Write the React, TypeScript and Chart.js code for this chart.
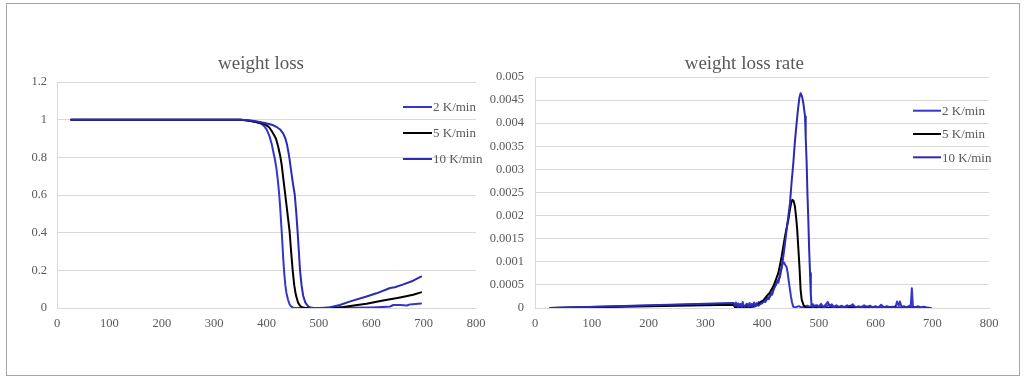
import React, { useEffect, useRef } from "react";
import { Chart, registerables } from "chart.js";
Chart.register(...registerables);

const FONT = "'Liberation Serif', 'Times New Roman', serif";
const TEXT_COLOR = "#595959";
const GRID_COLOR = "#d9d9d9";

const seriesLabels = ["2 K/min", "5 K/min", "10 K/min"];
const seriesColors = ["#3636CC", "#000000", "#2B2BB4"];

const chartTitles = ["weight loss", "weight loss rate"];
const xTickValues = [0, 100, 200, 300, 400, 500, 600, 700, 800];
const wlYTickValues = [0, 0.2, 0.4, 0.6, 0.8, 1, 1.2];
const rateYTickValues = [0, 0.0005, 0.001, 0.0015, 0.002, 0.0025, 0.003, 0.0035, 0.004, 0.0045, 0.005];

// ---------- weight loss (normalized mass) ----------
const wl2T = [27, 350, 360, 370, 380, 390, 394, 400, 406, 410, 413, 416, 419, 422, 424, 426, 428, 430, 432, 434, 436, 438, 441, 444, 447, 451, 456, 480, 520, 560, 600, 630, 636, 642, 655, 668, 674, 695];
const wl2 = [1, 1, 0.997, 0.993, 0.987, 0.978, 0.97, 0.95, 0.91, 0.87, 0.83, 0.79, 0.74, 0.67, 0.61, 0.54, 0.45, 0.36, 0.26, 0.18, 0.12, 0.08, 0.045, 0.02, 0.008, 0.002, 0, 0, 0, 0.001, 0.003, 0.006, 0.008, 0.016, 0.016, 0.013, 0.019, 0.024];

const wl5T = [27, 350, 360, 370, 380, 390, 395, 400, 405, 410, 414, 418, 422, 426, 429, 432, 435, 438, 441, 444, 447, 450, 453, 456, 460, 464, 468, 473, 480, 500, 530, 547, 570, 591, 620, 655, 680, 695];
const wl5 = [1, 1, 0.997, 0.993, 0.988, 0.982, 0.978, 0.97, 0.96, 0.94, 0.92, 0.9, 0.86, 0.81, 0.76, 0.69, 0.62, 0.55, 0.48, 0.41, 0.3, 0.2, 0.12, 0.07, 0.03, 0.012, 0.004, 0.001, 0, 0, 0.002, 0.005, 0.014, 0.023, 0.038, 0.056, 0.07, 0.083];

const wl10T = [27, 350, 360, 370, 380, 394, 405, 413, 420, 426, 432, 436, 439, 442, 444, 447, 450, 454, 457, 459.5, 462, 464, 467, 470, 474, 479, 484, 490, 510, 520, 540, 560, 591, 610, 636, 645, 660, 680, 695];
const wl10 = [1, 1, 0.998, 0.995, 0.992, 0.984, 0.977, 0.97, 0.96, 0.948, 0.926, 0.9, 0.87, 0.825, 0.79, 0.73, 0.67, 0.6, 0.5, 0.4, 0.29, 0.2, 0.12, 0.065, 0.03, 0.01, 0.003, 0, 0, 0.003, 0.016, 0.035, 0.061, 0.078, 0.106, 0.11, 0.124, 0.145, 0.167];

// ---------- weight loss rate ----------
const rate2T = [27, 350, 352, 354, 356, 358, 360, 362, 364, 366, 368, 370, 372, 374, 376, 378, 380, 382, 384, 386, 388, 390, 392, 394, 396, 398, 400, 403, 406, 409, 412, 415, 418, 421, 424, 427, 429, 431, 433, 435, 437, 439, 441, 443, 445, 447, 449, 451, 453, 455, 458, 460, 465, 470, 475, 480, 485, 490, 493, 497, 500, 504, 508, 512, 516, 519, 523, 527, 531, 535, 540, 545, 550, 555, 560, 565, 570, 575, 580, 585, 590, 595, 600, 605, 610, 615, 620, 625, 630, 635, 638, 641, 643, 646, 650, 655, 660, 662, 664, 666, 670, 675, 680, 685, 690, 697];
const rate2 = [0, 0.0001, 0.00002, 0.00012, 0.00004, 0.0001, 0.00001, 0.00009, 0.00003, 0.00013, 0.00002, 0.00005, 0.00001, 0.00008, 0.00003, 0.00011, 0.00002, 0.00009, 0.00004, 0.00012, 0.00005, 0.0001, 0.00006, 0.00013, 0.00008, 0.00014, 0.0001, 0.00017, 0.00013, 0.00022, 0.00019, 0.00031, 0.00029, 0.00044, 0.00049, 0.00058, 0.00055, 0.00068, 0.0008, 0.0009, 0.00099, 0.00098, 0.00093, 0.0009, 0.00078, 0.0006, 0.00042, 0.00025, 0.00012, 0.00003, 0.00001, 0.00002, 0.00004, 0.00001, 0.00003, 0.00005, 0.00002, 0.00008, 0.00002, 0.00006, 0.00003, 0.00009, 0.00002, 0.00007, 0.00013, 0.00004, 0.00008, 0.00002, 0.00006, 0.00001, 0.00005, 0.00002, 0.00006, 0.00002, 0.00008, 0.00001, 0.00004, 0.00002, 0.00006, 0.00001, 0.00005, 0.00002, 0.00004, 0.00001, 0.00007, 0.00001, 0.00004, 0.00002, 0.00003, 0.00001, 0.00014, 0.00005, 0.00014, 0.00002, 0.00004, 0.00001, 0.00005, 0.00002, 0.00043, 0.00003, 0.00002, 0.00004, 0.00001, 0.00003, 0.00001, 0];

const rate5T = [27, 350, 353, 360, 370, 380, 388, 392, 396, 402, 408, 414, 420, 425, 428.8, 432, 434.7, 437.5, 440.5, 443.5, 446.4, 449, 451.5, 453.5, 455.5, 458, 460, 462, 464, 466, 468, 470, 473, 476, 479, 560, 632, 634, 636, 697];
const rate5 = [0, 0.00007, 0.00001, 0.00001, 0.00002, 0.00002, 0.00004, 0.00007, 0.00011, 0.00016, 0.00025, 0.00034, 0.00047, 0.00063, 0.00076, 0.00095, 0.00112, 0.00133, 0.00155, 0.00174, 0.00191, 0.00212, 0.00228, 0.00234, 0.00232, 0.0022, 0.00198, 0.0017, 0.0013, 0.0009, 0.0004, 0.00018, 0.00007, 0.00002, 0, 0, 0, 0.00003, 0, 0];

const rate10T = [27, 350, 352, 355, 358, 361, 364, 367, 370, 373, 376, 379, 382, 385, 388, 391, 394, 397, 400, 404, 408, 414, 418, 423, 427, 431.7, 435, 437.6, 440, 443.5, 446, 449.3, 452, 455.2, 458, 461, 463, 465.8, 468, 470.5, 472.8, 475.8, 477, 478.7, 480, 481.6, 483, 484.6, 486, 487.5, 490, 495, 500, 505, 510, 518, 525, 535, 545, 556, 570, 585, 600, 620, 640, 660, 680, 697];
const rate10 = [0, 0.00011, 0.00005, 0.00008, 0.00002, 0.00007, 0.00001, 0.00006, 0.00003, 0.00009, 0.00002, 0.00006, 0.00003, 0.00008, 0.00004, 0.00007, 0.00005, 0.00009, 0.00011, 0.00014, 0.00018, 0.00025, 0.00033, 0.00047, 0.00057, 0.00068, 0.0009, 0.00112, 0.00135, 0.0017, 0.00195, 0.00227, 0.0027, 0.00314, 0.0036, 0.004, 0.00425, 0.00455, 0.00465, 0.00458, 0.00444, 0.00415, 0.0037, 0.00314, 0.0025, 0.00191, 0.0013, 0.00076, 0.0003, 0.00004, 0.00002, 0.00006, 0.00002, 0.00004, 0.00001, 0.00007, 0.00002, 0.00003, 0.00001, 0.00005, 0.00001, 0.00003, 0.00001, 0.00002, 0.00001, 0.00002, 0.00001, 0];

const toPoints = (xs: number[], ys: number[]) => xs.map((x, i) => ({ x, y: ys[i] }));
const fmt = (v: number) => String(Number(Number(v).toFixed(6)));

const overlayPlugin = {
  id: "overlay",
  afterDraw(chart: any, _args: any, opts: any) {
    const ctx = chart.ctx;
    ctx.save();
    ctx.fillStyle = TEXT_COLOR;
    ctx.font = `${opts.titleSize}px ${FONT}`;
    ctx.textAlign = "center";
    ctx.textBaseline = "alphabetic";
    ctx.fillText(opts.title, opts.titleX, opts.titleY);
    chart.data.datasets.forEach((ds: any, i: number) => {
      const y = opts.legendY + i * opts.legendGap;
      ctx.strokeStyle = ds.borderColor;
      ctx.lineWidth = 2;
      ctx.beginPath();
      ctx.moveTo(opts.legendX, y);
      ctx.lineTo(opts.legendX + opts.legendLine, y);
      ctx.stroke();
      ctx.fillStyle = TEXT_COLOR;
      ctx.font = `${opts.legendSize}px ${FONT}`;
      ctx.textAlign = "left";
      ctx.textBaseline = "middle";
      ctx.fillText(ds.label, opts.legendX + opts.legendLine + 1, y + 1);
    });
    ctx.restore();
  },
};

function makeConfig(
  series: { x: number[]; y: number[] }[],
  yMax: number,
  yStep: number,
  yTicks: number[],
  layout: { left: number; right: number; top: number; bottom: number; yWidth: number; yPad: number },
  overlay: any
): any {
  return {
    type: "line",
    data: {
      datasets: series.map((s, i) => ({
        label: seriesLabels[i],
        data: toPoints(s.x, s.y),
        borderColor: seriesColors[i],
        backgroundColor: seriesColors[i],
        borderWidth: 2,
        borderJoinStyle: "round",
        borderCapStyle: "round",
        pointRadius: 0,
        tension: 0,
        fill: false,
        order: 2 - i,
      })),
    },
    options: {
      responsive: false,
      animation: false,
      events: [],
      layout: { padding: { left: layout.left, right: layout.right, top: layout.top, bottom: layout.bottom } },
      plugins: {
        legend: { display: false },
        title: { display: false },
        tooltip: { enabled: false },
        overlay,
      },
      scales: {
        x: {
          type: "linear",
          min: 0,
          max: 800,
          afterFit: (s: any) => { s.height = 30; },
          afterBuildTicks: (s: any) => { s.ticks = xTickValues.map((v) => ({ value: v })); },
          grid: { display: false, drawTicks: false },
          border: { display: true, color: GRID_COLOR },
          ticks: { padding: 8, color: TEXT_COLOR, font: { family: FONT, size: 12.5 }, maxRotation: 0, autoSkip: false, callback: (v: any) => fmt(v) },
        },
        y: {
          type: "linear",
          min: 0,
          max: yMax,
          afterFit: (s: any) => { s.width = layout.yWidth; },
          afterBuildTicks: (s: any) => { s.ticks = yTicks.map((v) => ({ value: v })); },
          grid: { color: GRID_COLOR, drawTicks: false, lineWidth: 1 },
          border: { display: true, color: GRID_COLOR },
          ticks: { stepSize: yStep, padding: layout.yPad, color: TEXT_COLOR, font: { family: FONT, size: 12.5 }, autoSkip: false, callback: (v: any) => fmt(v) },
        },
      },
    },
    plugins: [overlayPlugin],
  };
}

export default function App() {
  const leftRef = useRef<HTMLCanvasElement>(null);
  const rightRef = useRef<HTMLCanvasElement>(null);

  useEffect(() => {
    const left = new Chart(
      leftRef.current as HTMLCanvasElement,
      makeConfig(
        [
          { x: wl2T, y: wl2 },
          { x: wl5T, y: wl5 },
          { x: wl10T, y: wl10 },
        ],
        1.2,
        0.2,
        wlYTickValues,
        { left: 17, right: 36, top: 82, bottom: 41, yWidth: 40, yPad: 10 },
        { title: chartTitles[0], titleSize: 19, titleX: 261, titleY: 68.5, legendX: 403, legendLine: 29, legendY: 107, legendGap: 26, legendSize: 13 }
      )
    );
    const right = new Chart(
      rightRef.current as HTMLCanvasElement,
      makeConfig(
        [
          { x: rate2T, y: rate2 },
          { x: rate5T, y: rate5 },
          { x: rate10T, y: rate10 },
        ],
        0.005,
        0.0005,
        rateYTickValues,
        { left: 15, right: 35, top: 77, bottom: 41, yWidth: 50, yPad: 11 },
        { title: chartTitles[1], titleSize: 19, titleX: 274.3, titleY: 69.3, legendX: 443, legendLine: 28, legendY: 110.7, legendGap: 23.3, legendSize: 13 }
      )
    );
    return () => {
      left.destroy();
      right.destroy();
    };
  }, []);

  return (
    <div style={{ position: "absolute", left: 0, top: 0, width: 1024, height: 379, background: "#ffffff", overflow: "hidden" }}>
      <div style={{ position: "absolute", left: 6, top: 3, width: 1012, height: 371, border: "1px solid #a6a6a6" }} />
      <canvas ref={leftRef} width={512} height={379} style={{ position: "absolute", left: 0, top: 0, width: 512, height: 379 }} />
      <canvas ref={rightRef} width={554} height={379} style={{ position: "absolute", left: 470, top: 0, width: 554, height: 379 }} />
    </div>
  );
}
